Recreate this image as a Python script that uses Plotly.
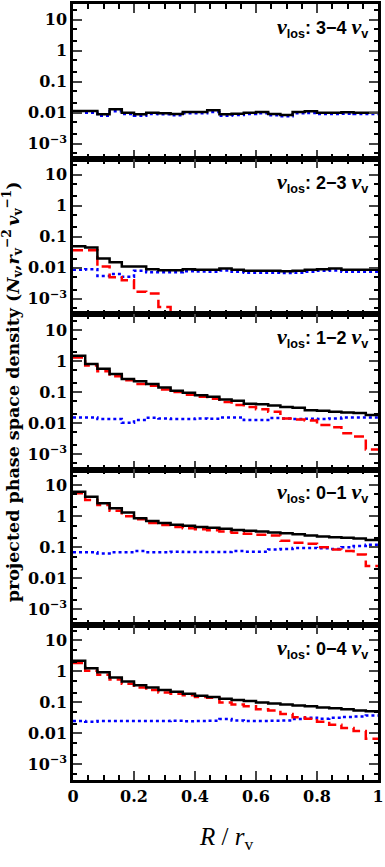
import numpy as np
import plotly.graph_objects as go
from plotly.subplots import make_subplots

# bin edges in R / r_v (25 bins)
r_edges = np.round(np.arange(26) * 0.04, 2)

panel_labels = ["3\u22124", "2\u22123", "1\u22122", "0\u22121", "0\u22124"]

# total (black solid)
total = [
    [0.0113, 0.0113, 0.0088, 0.0128, 0.0100, 0.0088, 0.0100, 0.0096, 0.0090, 0.0105,
     0.0105, 0.0120, 0.0088, 0.0092, 0.0100, 0.0105, 0.0090, 0.0084, 0.0105, 0.0110,
     0.0100, 0.0100, 0.0102, 0.0100, 0.0100],
    [0.050, 0.045, 0.020, 0.015, 0.011, 0.011, 0.0090, 0.0084, 0.0084, 0.0090,
     0.0086, 0.0086, 0.0095, 0.0086, 0.0080, 0.0080, 0.0080, 0.0078, 0.0080, 0.0086,
     0.0090, 0.0095, 0.0086, 0.0086, 0.0086],
    [1.48, 0.80, 0.56, 0.38, 0.26, 0.22, 0.18, 0.14, 0.11, 0.095,
     0.078, 0.070, 0.057, 0.052, 0.042, 0.040, 0.037, 0.033, 0.031, 0.026,
     0.025, 0.023, 0.022, 0.021, 0.018],
    [6.1, 4.2, 2.6, 1.8, 1.31, 0.86, 0.70, 0.60, 0.53, 0.49,
     0.45, 0.42, 0.39, 0.36, 0.34, 0.32, 0.30, 0.28, 0.26, 0.24,
     0.22, 0.21, 0.20, 0.19, 0.17],
    [2.2, 1.25, 0.93, 0.64, 0.47, 0.36, 0.30, 0.25, 0.22, 0.19,
     0.165, 0.15, 0.13, 0.12, 0.11, 0.10, 0.092, 0.085, 0.080, 0.075,
     0.068, 0.065, 0.060, 0.055, 0.052],
]

# bound / infall component (red dashed)
bound = [
    None,
    [0.037, 0.037, 0.011, 0.005, 0.004, 0.0017, 0.0015, 0.00055, 1e-6, None,
     None, None, None, None, None, None, None, None, None, None,
     None, None, None, None, None],
    [1.3, 0.71, 0.47, 0.32, 0.24, 0.18, 0.16, 0.12, 0.10, 0.082,
     0.070, 0.061, 0.048, 0.038, 0.033, 0.028, 0.023, 0.014, 0.013, 0.012,
     0.0086, 0.0073, 0.0047, 0.0037, 0.0014],
    [5.5, 3.3, 2.3, 1.5, 1.0, 0.80, 0.60, 0.52, 0.45, 0.41,
     0.38, 0.35, 0.32, 0.29, 0.27, 0.25, 0.24, 0.16, 0.14, 0.13,
     0.10, 0.085, 0.075, 0.058, 0.025],
    [1.85, 1.05, 0.78, 0.55, 0.40, 0.30, 0.25, 0.21, 0.19, 0.17,
     0.15, 0.14, 0.10, 0.085, 0.075, 0.060, 0.055, 0.042, 0.033, 0.030,
     0.024, 0.019, 0.015, 0.012, 0.0068],
]

# interloper component (blue dotted)
interlopers = [
    [0.0100, 0.0100, 0.0080, 0.0110, 0.0090, 0.0080, 0.0090, 0.0088, 0.0082, 0.0095,
     0.0095, 0.0105, 0.0080, 0.0084, 0.0090, 0.0095, 0.0082, 0.0077, 0.0095, 0.0098,
     0.0090, 0.0090, 0.0092, 0.0090, 0.0090],
    [0.0086, 0.0090, 0.0055, 0.0063, 0.0052, 0.0080, 0.0072, 0.0072, 0.0072, 0.0078,
     0.0076, 0.0075, 0.0082, 0.0075, 0.0070, 0.0070, 0.0070, 0.0068, 0.0070, 0.0075,
     0.0080, 0.0082, 0.0075, 0.0075, 0.0075],
    [0.0152, 0.0152, 0.0134, 0.0134, 0.0102, 0.0125, 0.0148, 0.0141, 0.0134, 0.0134,
     0.0141, 0.0138, 0.0152, 0.0152, 0.0125, 0.0125, 0.0145, 0.0141, 0.0134, 0.0138,
     0.0134, 0.0141, 0.0152, 0.0152, 0.0152],
    [0.069, 0.069, 0.063, 0.069, 0.069, 0.075, 0.069, 0.069, 0.072, 0.070,
     0.070, 0.070, 0.070, 0.075, 0.072, 0.072, 0.085, 0.088, 0.095, 0.095,
     0.092, 0.088, 0.100, 0.110, 0.120],
    [0.025, 0.024, 0.025, 0.025, 0.025, 0.025, 0.025, 0.025, 0.0255, 0.0245,
     0.025, 0.0255, 0.029, 0.026, 0.025, 0.025, 0.0255, 0.026, 0.029, 0.032,
     0.030, 0.032, 0.034, 0.035, 0.038],
]

y_tickvals = [1e-3, 1e-2, 0.1, 1, 10]
y_ticktext = ["<b>10<sup>\u22123</sup></b>", "<b>0.01</b>", "<b>0.1</b>", "<b>1</b>", "<b>10</b>"]
x_tickvals = [0, 0.2, 0.4, 0.6, 0.8, 1]
x_ticktext = ["<b>0</b>", "<b>0.2</b>", "<b>0.4</b>", "<b>0.6</b>", "<b>0.8</b>", "<b>1</b>"]

SERIF = "DejaVu Serif"

fig = make_subplots(rows=5, cols=1, shared_xaxes=True, vertical_spacing=0)


def steps(vals):
    return list(vals) + [vals[-1]]


for i in range(5):
    row = i + 1
    series = [
        (interlopers[i], dict(color="#0000ff", width=2.5, dash="dot")),
        (bound[i], dict(color="#ff0000", width=2.5, dash="10px,5px")),
        (total[i], dict(color="black", width=2.5)),
    ]
    for vals, line in series:
        if vals is None:
            continue
        fig.add_trace(go.Scatter(x=r_edges, y=steps(vals), mode="lines",
                                 line=line, line_shape="hv", showlegend=False,
                                 connectgaps=False), row=row, col=1)
    fig.update_yaxes(type="log", range=[-3.5, 1.5], tickvals=y_tickvals,
                     ticktext=y_ticktext, row=row, col=1)

fig.update_yaxes(ticks="inside", ticklen=9, tickwidth=2, mirror="allticks",
                 showline=True, linewidth=2.5, linecolor="black", showgrid=False,
                 zeroline=False, tickfont=dict(family=SERIF, size=16, color="black"),
                 minor=dict(ticks="inside", ticklen=4, tickwidth=1.5,
                            tickcolor="black", showgrid=False))
fig.update_xaxes(range=[0, 1], ticks="inside", ticklen=9, tickwidth=2,
                 mirror="allticks", showline=True, linewidth=2.5, linecolor="black",
                 showgrid=False, zeroline=False, tickvals=x_tickvals,
                 ticktext=x_ticktext,
                 tickfont=dict(family=SERIF, size=16, color="black"),
                 minor=dict(ticks="inside", ticklen=5, tickwidth=1.5,
                            tickcolor="black", dtick=0.05, showgrid=False))

# panel labels
for i, lab in enumerate(panel_labels):
    yref = "y domain" if i == 0 else f"y{i + 1} domain"
    fig.add_annotation(
        x=0.975, y=0.95, xref="x domain", yref=yref, xanchor="right", yanchor="top",
        text=("<b><span style='font-family:Liberation Serif;font-size:22px'><i>v</i></span>"
              "<sub>los</sub>: " + lab +
              " <span style='font-family:Liberation Serif;font-size:22px'><i>v</i></span>"
              "<sub>v</sub></b>"),
        showarrow=False, font=dict(family="Liberation Sans", size=18, color="black"))

# axis titles
fig.add_annotation(
    x=-0.199, y=0.5, xref="paper", yref="paper", xanchor="center", yanchor="middle",
    textangle=-90,
    text="<b>projected phase space density (<i>N</i><sub>v</sub>,<i>r</i><sub>v</sub>"
         "<sup>\u22122</sup>\u2009<i>v</i><sub>v</sub><sup>\u22121</sup>)</b>",
    showarrow=False, font=dict(family=SERIF, size=17.5, color="black"))
fig.add_annotation(
    x=0.5, y=-0.075, xref="paper", yref="paper", yanchor="middle",
    text="<i>R</i> / <i>r</i><sub>v</sub>",
    showarrow=False, font=dict(family="Liberation Serif", size=25, color="black"))

fig.update_layout(width=385, height=867, margin=dict(l=73, r=6, t=1, b=87),
                  plot_bgcolor="white", paper_bgcolor="white")

fig.write_html("out.html", config={"displayModeBar": False},
               post_script="document.body.style.margin = '0';")
